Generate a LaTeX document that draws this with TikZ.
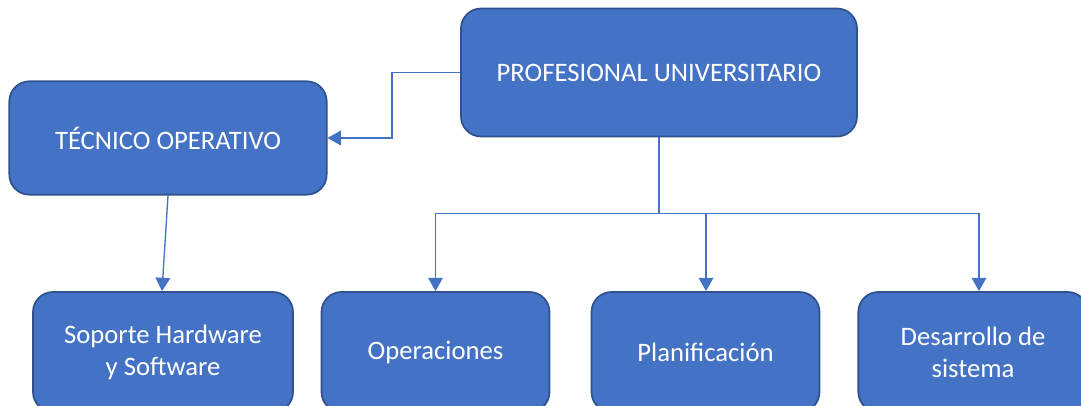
\documentclass[tikz,border=0pt]{standalone}
\usepackage{fontspec}
\setmainfont{Carlito}
\usepackage{xcolor}
\usetikzlibrary{arrows.meta, positioning}

\definecolor{boxfill}{HTML}{4472C4}
\definecolor{boxline}{HTML}{2F528F}

\begin{document}
\begin{tikzpicture}[
    x=0.75pt, y=-0.75pt,
    box/.style={rectangle, draw=boxline, line width=1.3pt, fill=boxfill, rounded corners=15pt, align=center, text=white, font=\fontsize{20}{24}\selectfont, inner sep=0pt},
    arrow/.style={draw=boxfill, line width=1pt, -{Triangle[length=10pt, width=11pt]}},
    link/.style={draw=boxfill, line width=1pt}
]
\useasboundingbox (0,0) rectangle (1081,406);

% Top level
\node[box, minimum width=297pt, minimum height=96pt] (prof) at (659,72.5) {PROFESIONAL UNIVERSITARIO};

% Second level
\node[box, minimum width=238pt, minimum height=85pt] (tec) at (168,138) {TÉCNICO OPERATIVO};

% Areas
\node[box, minimum width=195pt, minimum height=90pt] (soporte) at (163,352) {Soporte Hardware\\y Software};
\node[box, minimum width=171pt, minimum height=90pt] (oper) at (435.5,352) {Operaciones};
\node[box, minimum width=171pt, minimum height=90pt] (plan) at (705.5,352) {Planificación};
\node[box, minimum width=172pt, minimum height=90pt] (desa) at (973,352) {Desarrollo de\\sistema};

% Connectors
\path (prof.south) ++(0,76) coordinate (fork);
\draw[arrow] (prof.west) -- ++(-68,0) |- (tec.east);
\draw[arrow] (tec.south) -- ([xshift=-0.75pt]soporte.north);
\draw[link] (prof.south) -- (fork);
\draw[arrow] (fork) -| (oper.north);
\draw[arrow] (fork) -| ([xshift=0.4pt]plan.north);
\draw[arrow] (fork) -| ([xshift=4.5pt]desa.north);

\end{tikzpicture}
\end{document}
